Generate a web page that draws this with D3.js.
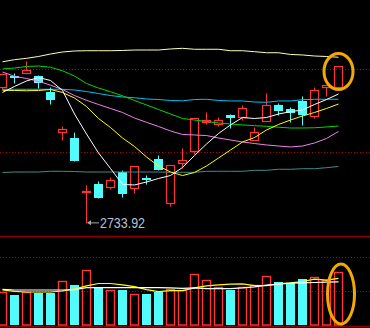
<!DOCTYPE html>
<html>
<head>
<meta charset="utf-8">
<script src="https://cdn.jsdelivr.net/npm/d3@7"></script>
<style>
html,body{margin:0;padding:0;background:#000;overflow:hidden}
</style>
</head>
<body>
<svg id="chart" width="370" height="328"></svg>
<script>
// daily candles, index 0..28
const opens  = [2903.4,2917.5,2920.9,2917.5,2897.5,2847.1,2840.0,2772.5,2782.5,2779.1,2797.1,2777.1,2789.4,2813.8,2759.1,2808.4,2824.1,2860.0,2858.1,2868.8,2866.6,2836.9,2861.6,2881.3,2875.9,2886.6,2868.1,2903.4,2904.1];
const closes = [2920.0,2915.6,2925.0,2908.4,2887.5,2851.3,2811.3,2773.4,2765.4,2787.5,2770.4,2805.0,2788.1,2800.0,2806.3,2812.5,2865.4,2862.5,2862.1,2865.0,2877.1,2847.5,2881.3,2873.8,2871.6,2868.8,2900.0,2906.3,2930.0];
const highs  = [2921.3,2921.3,2936.3,2918.8,2903.8,2855.4,2847.5,2781.3,2786.3,2791.6,2800.0,2805.0,2793.8,2818.8,2806.3,2827.1,2865.4,2872.5,2865.9,2870.6,2881.3,2854.1,2895.9,2884.1,2879.1,2892.5,2903.4,2906.3,2930.0];
const lows   = [2901.3,2908.8,2920.9,2902.9,2881.9,2837.5,2811.3,2733.92,2765.4,2776.3,2766.6,2771.6,2782.5,2800.0,2755.0,2802.1,2819.6,2857.5,2855.0,2852.5,2861.9,2836.9,2861.6,2868.8,2860.4,2856.3,2865.4,2892.5,2904.1];
const volumes = [0.97,0.88,0.97,0.94,0.94,1.29,1.18,1.62,1.12,1.03,1.03,0.91,0.91,0.97,1.06,1.03,1.50,1.32,1.12,1.03,1.12,1.18,1.44,1.26,1.24,1.35,1.41,1.32,1.56];

// moving averages
const ma5   = [2896.9,2904.4,2911.3,2915.6,2911.9,2899.4,2870.0,2845.0,2821.3,2801.9,2781.9,2781.3,2785.0,2789.4,2793.1,2803.1,2818.1,2832.5,2845.6,2856.3,2865.6,2864.4,2865.6,2870.0,2872.9,2875.0,2881.9,2888.1,2895.0];
const ma10  = [2899.6,2899.4,2899.1,2899.4,2900.6,2896.9,2890.0,2879.4,2864.4,2853.1,2840.0,2829.4,2816.3,2805.0,2797.5,2793.1,2796.9,2805.0,2815.0,2825.0,2835.0,2840.6,2850.0,2856.9,2862.5,2867.5,2871.9,2876.9,2882.5];
const ma20  = [2922.5,2917.1,2914.4,2910.9,2906.0,2900.6,2893.1,2887.1,2881.9,2876.9,2871.9,2865.0,2859.6,2854.4,2848.8,2844.4,2843.8,2843.1,2840.0,2837.5,2835.0,2833.1,2831.3,2830.0,2828.8,2830.0,2833.8,2839.4,2848.1];
const ma30  = [2926.3,2927.5,2929.4,2930.0,2928.4,2924.0,2917.5,2908.1,2902.5,2897.8,2892.8,2886.9,2881.3,2875.6,2870.0,2864.4,2862.5,2860.6,2858.8,2857.5,2856.3,2855.4,2854.6,2853.5,2852.5,2852.5,2852.8,2853.8,2855.0];
const ma60  = [2900.9,2900.9,2900.9,2900.9,2900.9,2900.9,2900.0,2898.1,2895.6,2893.1,2891.3,2890.3,2888.8,2888.1,2886.9,2886.5,2888.1,2888.4,2886.9,2886.3,2886.3,2885.0,2884.6,2886.3,2886.3,2887.9,2888.4,2888.4,2888.4];
const ma120 = [2935.3,2937.9,2939.6,2941.9,2945.0,2947.5,2948.8,2949.1,2949.1,2949.1,2949.4,2950.0,2950.0,2950.0,2951.3,2952.1,2950.9,2950.9,2950.9,2949.1,2949.1,2947.9,2946.6,2946.6,2944.4,2943.8,2942.5,2941.9,2940.9];
const ma250 = [2796.9,2797.5,2797.5,2797.5,2798.4,2798.4,2798.1,2797.5,2797.5,2797.5,2797.5,2797.5,2797.5,2797.5,2797.1,2797.1,2797.1,2798.4,2798.4,2798.4,2798.4,2799.6,2799.6,2800.9,2800.9,2801.6,2801.6,2802.9,2804.4];
const volMa5  = [1.05,1.03,1.03,1.03,1.03,1.03,1.04,1.10,1.10,1.10,1.10,1.10,1.10,1.10,1.09,1.08,1.09,1.07,1.07,1.07,1.09,1.12,1.17,1.20,1.23,1.24,1.25,1.26,1.27];
const volMa10 = [1.03,0.99,0.97,0.97,0.97,1.00,1.06,1.15,1.22,1.22,1.18,1.13,1.04,0.98,1.01,1.01,1.09,1.15,1.18,1.20,1.21,1.16,1.16,1.21,1.24,1.28,1.35,1.32,1.37];

const priceRefLines = [2925.9, 2822.1];
const volGridLines = [1, 2];
const lowIndex = 7;
const lowLabel = "2733.92";

const RED = "#ff3434", CYAN = "#50fcfc";

const svg = d3.select("#chart");
svg.append("rect").attr("width",370).attr("height",328).attr("fill","#000");

const x  = d3.scaleLinear().domain([0, 28]).range([2.5, 338.5]);
const y  = d3.scaleLinear().domain([2700, 3000]).range([250, 10]);
const yv = d3.scaleLinear().domain([0, 2]).range([325, 257]);
const px = v => Math.round(v) + 0.5;
const idx = d3.range(closes.length);

// dotted reference lines
svg.selectAll("line.ref").data(priceRefLines).join("line").attr("class","ref")
  .attr("x1",0).attr("x2",370).attr("y1",d=>px(y(d))).attr("y2",d=>px(y(d)))
  .attr("stroke","#b00000").attr("stroke-dasharray","1,2");
svg.selectAll("line.vgrid").data(volGridLines).join("line").attr("class","vgrid")
  .attr("x1",0).attr("x2",370).attr("y1",d=>px(yv(d))).attr("y2",d=>px(yv(d)))
  .attr("stroke","#b00000").attr("stroke-dasharray","1,2");

// panel borders
svg.append("line").attr("x1",0).attr("x2",370).attr("y1",236.5).attr("y2",236.5)
  .attr("stroke","#8c0000").attr("stroke-width",1.3);
svg.append("line").attr("x1",0).attr("x2",370).attr("y1",326.5).attr("y2",326.5)
  .attr("stroke","#8c0000").attr("stroke-width",1.5);

// candles
const cg = svg.append("g");
idx.forEach(i => {
  const up = closes[i] >= opens[i];
  const cx = x(i);
  const top = px(y(Math.max(opens[i], closes[i])));
  const bot = px(y(Math.min(opens[i], closes[i])));
  const hi = px(y(highs[i])), lo = px(y(lows[i]));
  if (up) {
    if (hi < top) cg.append("line").attr("x1",cx).attr("x2",cx).attr("y1",hi).attr("y2",top).attr("stroke",RED);
    if (lo > bot) cg.append("line").attr("x1",cx).attr("x2",cx).attr("y1",bot).attr("y2",lo).attr("stroke",RED);
    cg.append("rect").attr("x",cx-4).attr("y",top).attr("width",8).attr("height",Math.max(0.01,bot-top))
      .attr("fill","none").attr("stroke",RED).attr("stroke-width",1.2);
  } else {
    cg.append("line").attr("x1",cx).attr("x2",cx).attr("y1",hi).attr("y2",lo).attr("stroke",CYAN);
    cg.append("rect").attr("x",cx-4.5).attr("y",top-0.5).attr("width",9).attr("height",Math.max(1,bot-top))
      .attr("fill",CYAN);
  }
});

// MA lines
const lineP = d3.line().x((d,i)=>x(i)).y(d=>y(d));
[[ma250,"#408c8c"],[ma120,"#ffffb4"],[ma60,"#00c0f0"],[ma30,"#00d800"],[ma20,"#f080f0"],[ma10,"#ffff00"],[ma5,"#ffffff"]]
  .forEach(([s,c]) => svg.append("path").attr("d",lineP(s)).attr("fill","none").attr("stroke",c).attr("stroke-width",1));

// low label with arrow
const ly = y(lows[lowIndex]);
svg.append("line").attr("x1",x(lowIndex)+3).attr("x2",x(lowIndex)+12.5).attr("y1",ly).attr("y2",ly)
  .attr("stroke","#a8a8a8").attr("stroke-width",1);
svg.append("path").attr("d",`M${x(lowIndex)+0.5},${ly} l4,-2.5 v5 z`).attr("fill","#a8a8a8");
svg.append("text").attr("x",x(lowIndex)+13.5).attr("y",ly+5)
  .attr("font-family","Liberation Sans, Arial, sans-serif").attr("font-size",14)
  .attr("textLength",45).attr("lengthAdjust","spacingAndGlyphs")
  .attr("fill","#b8c0d8").text(lowLabel);

// volume bars
const vg = svg.append("g");
idx.forEach(i => {
  const up = closes[i] >= opens[i];
  const cx = x(i);
  const t = px(yv(volumes[i]));
  if (up) {
    vg.append("rect").attr("x",cx-4).attr("y",t).attr("width",8).attr("height",yv(0)-t)
      .attr("fill","none").attr("stroke",RED).attr("stroke-width",1.4);
  } else {
    vg.append("rect").attr("x",cx-4.5).attr("y",t-0.5).attr("width",9).attr("height",yv(0)-t+0.5)
      .attr("fill",CYAN);
  }
});
const lineV = d3.line().x((d,i)=>x(i)).y(d=>yv(d));
[[volMa10,"#ffff00"],[volMa5,"#ffffff"]]
  .forEach(([s,c]) => svg.append("path").attr("d",lineV(s)).attr("fill","none").attr("stroke",c).attr("stroke-width",1.2));

// highlight ellipses around the last day
const last = closes.length - 1;
svg.append("ellipse").attr("cx",x(last)).attr("cy",y(highs[last])+5.5)
  .attr("rx",14.5).attr("ry",18).attr("fill","none").attr("stroke","#f2a900").attr("stroke-width",3);
svg.append("ellipse").attr("cx",x(last)+2.5).attr("cy",294)
  .attr("rx",13.5).attr("ry",30).attr("fill","none").attr("stroke","#f2a900").attr("stroke-width",3);
</script>
</body>
</html>
